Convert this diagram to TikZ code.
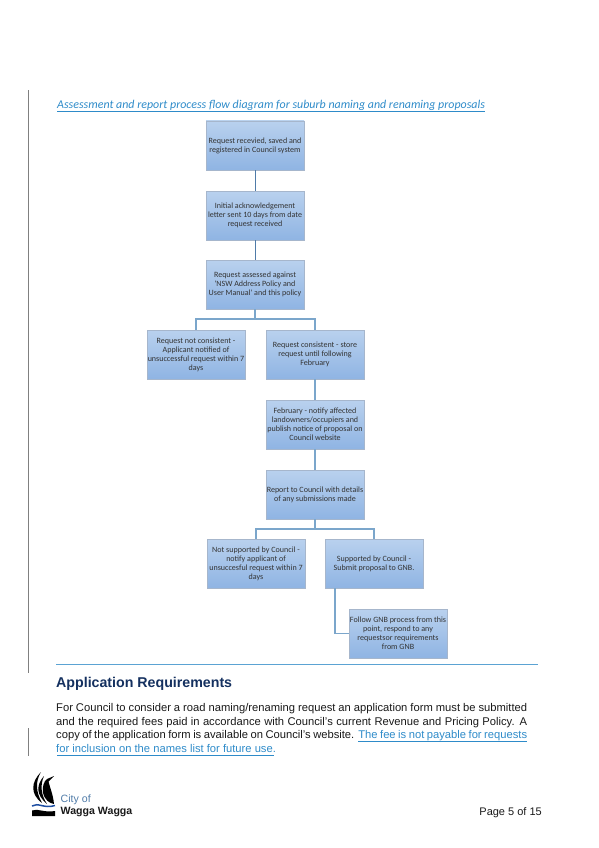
\documentclass[tikz,border=0pt]{standalone}
\usepackage{fontspec}
\setmainfont{Liberation Sans}
\newfontfamily\boxfont{Carlito}
\usetikzlibrary{positioning}
\definecolor{linkblue}{HTML}{2E8BC9}
\definecolor{ruleblue}{HTML}{5BA3D3}
\definecolor{headnavy}{HTML}{14305F}
\definecolor{barblue}{HTML}{4F7BA8}
\definecolor{treeblue}{HTML}{7BA6CB}
\definecolor{boxtop}{HTML}{B9D1EE}
\definecolor{boxbottom}{HTML}{8FB4E3}
\definecolor{boxedge}{HTML}{A6B6CC}
\definecolor{wave}{HTML}{1F4FA3}
\tikzset{
  flowbox/.style={draw=boxedge, top color=boxtop, bottom color=boxbottom,
    minimum width=98pt, minimum height=49pt, inner sep=0pt, outer sep=0pt, align=center,
    font=\boxfont\fontsize{8.05}{9}\selectfont, text=black!80},
  barline/.style={draw=barblue, line width=0.9pt},
  treeline/.style={draw=treeblue, line width=1.2pt},
  changebar/.style={draw=black!50, line width=1pt},
  bodytext/.style={inner sep=0pt, text=black!90}
}
\begin{document}
\begin{tikzpicture}[x=1pt,y=1pt]
  \useasboundingbox (0,0) rectangle (599,-848);
  % Flow boxes
  \node[flowbox] (received) at (255,-145.5) {Request recevied, saved and\\registered in Council system};
  \node[flowbox] (initial) [below=21pt of received] {Initial acknowledgement\\letter sent 10 days from date\\request received};
  \node[flowbox] (assessed) [below=20pt of initial] {Request assessed against\\'NSW Address Policy and\\User Manual' and this policy};
  \node[flowbox] (notcons) [below=21pt of assessed, xshift=-59pt] {Request not consistent -\\Applicant notified of\\unsuccessful request within 7\\days};
  \node[flowbox] (cons) [below=21pt of assessed, xshift=60pt] {Request consistent - store\\request until following\\February};
  \node[flowbox] (february) [below=21pt of cons] {February - notify affected\\landowners/occupiers and\\publish notice of proposal on\\Council website};
  \node[flowbox] (report) [below=21pt of february] {Report to Council with details\\of any submissions made};
  \node[flowbox] (notsupp) [below=20pt of report, xshift=-59pt] {Not supported by Council -\\notify applicant of\\unsuccesful request within 7\\days};
  \node[flowbox] (supp) [below=20pt of report, xshift=59pt] {Supported by Council -\\Submit proposal to GNB.};
  \node[flowbox] (gnb) [below=21pt of supp, xshift=24pt] {Follow GNB process from this\\point, respond to any\\requestsor requirements\\from GNB};

  % Connectors
  \draw[barline] (received) -- (initial);
  \draw[barline] (initial) -- (assessed);
  \draw[treeline] (assessed.south) -- ++(0,-10) -| (notcons.north);
  \draw[treeline] (assessed.south) -- ++(0,-10) -| (cons.north);
  \draw[treeline] (cons) -- (february);
  \draw[treeline] (february) -- (report);
  \draw[treeline] (report.south) -- ++(0,-10) -| (notsupp.north);
  \draw[treeline] (report.south) -- ++(0,-10) -| (supp.north);
  \draw[treeline] ([xshift=-39pt]supp.south) |- (gnb.west);

  % Title
  \node[anchor=base west, inner sep=0pt, text=linkblue, font=\boxfont\itshape\fontsize{11.93}{13}\selectfont] (title) at (57,-109) {Assessment and report process flow diagram for suburb naming and renaming proposals};
  \draw[draw=linkblue, line width=0.8pt] ([yshift=-2.2pt]title.base west) -- ([yshift=-2.2pt]title.base east);

  % Change bars and rule
  \draw[changebar] (28.5,-90.5) -- (28.5,-673);
  \draw[changebar] (28.5,-728) -- (28.5,-756);
  \draw[draw=ruleblue, line width=1pt] (56,-664) -- (538,-664);

  % Text below the diagram
  \node[bodytext, anchor=base west, text=headnavy, font=\bfseries\fontsize{14.2}{16}\selectfont] (heading) at (56,-687.5) {Application Requirements};
  \node[bodytext, text width=471pt, align=justify, font=\fontsize{11.2}{13.6}\selectfont, anchor=north west] (para) at (56,-703.4) {For Council to consider a road naming/renaming request an application form must be submitted and the required fees paid in accordance with Council's current Revenue and Pricing Policy. A copy of the application form is available on Council's website. \textcolor{linkblue}{The fee is not payable for requests for inclusion on the names list for future use.}};
  \draw[draw=linkblue, line width=0.7pt] (358,-741.5) -- (527,-741.5);
  \draw[draw=linkblue, line width=0.7pt] (57,-755.3) -- (274,-755.3);

  % Footer
  \node[bodytext, anchor=base west, text=barblue, font=\fontsize{10.6}{12}\selectfont] (city) at (60.5,-802.5) {City of};
  \node[bodytext, anchor=base west, font=\bfseries\fontsize{10.6}{12}\selectfont] (wagga) at (60.5,-814.5) {Wagga Wagga};
  \node[bodytext, anchor=base east, font=\fontsize{11}{13}\selectfont] (page) at (542,-815) {Page 5 of 15};

  % Logo
  \fill[black] (32,-816) -- (32,-810.5) .. controls (38,-808) and (44,-813) .. (55,-811) -- (55,-816) -- cycle;
  \fill[black] (41,-772) .. controls (31,-782) and (30,-794) .. (42,-803) .. controls (36,-792) and (35,-782) .. (41,-772) -- cycle;
  \fill[black] (44,-776) .. controls (36,-785) and (36,-795) .. (47,-804) .. controls (41,-795) and (40,-785) .. (44,-776) -- cycle;
  \fill[black] (54,-776) -- (48.5,-781.5) .. controls (50,-788) and (53,-794) .. (54,-804) .. controls (49,-803) and (45,-800) .. (43,-793) .. controls (42,-787) and (44,-781) .. (47,-779) -- cycle;
  \draw[draw=wave, line width=1.5pt] (32,-806) .. controls (38,-802) and (44,-809) .. (55,-805.5);
\end{tikzpicture}
\end{document}
